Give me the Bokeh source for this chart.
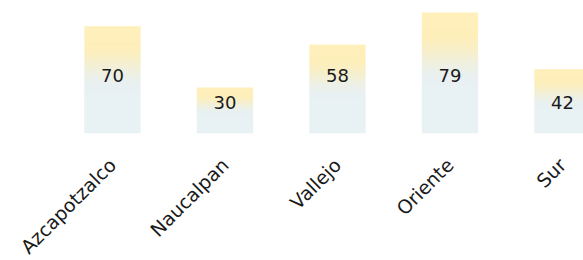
import numpy as np
from bokeh.plotting import figure
from bokeh.models import Range1d, FixedTicker
from bokeh.embed import file_html
from bokeh.resources import INLINE
from bokeh.core.properties import value as pval

categories = ["Azcapotzalco", "Naucalpan", "Vallejo", "Oriente", "Sur"]
values = [70, 30, 58, 79, 42]

FONT = "DejaVu Sans"
TOP = np.array([255, 239, 186], dtype=float)
BOTTOM = np.array([232, 241, 244], dtype=float)

def gradient(n=80):
    t = np.linspace(0, 1, n)  # 0 bottom, 1 top
    w = np.clip((t - 0.40) / 0.45, 0, 1)
    w = w * w * (3 - 2 * w)
    rgb = BOTTOM[None, :] * (1 - w[:, None]) + TOP[None, :] * w[:, None]
    img = np.zeros((n, 1), dtype=np.uint32)
    view = img.view(dtype=np.uint8).reshape((n, 1, 4))
    view[:, 0, 0] = rgb[:, 0].astype(np.uint8)
    view[:, 0, 1] = rgb[:, 1].astype(np.uint8)
    view[:, 0, 2] = rgb[:, 2].astype(np.uint8)
    view[:, 0, 3] = 255
    return img

xs = np.arange(len(categories))
vals = np.array(values, dtype=float)

p = figure(frame_width=575, frame_height=125, output_backend="svg",
           toolbar_location=None, y_axis_location=None,
           x_range=Range1d(-0.924, 4.187), y_range=Range1d(0, 81.6),
           min_border_left=8, min_border_right=0, min_border_top=8,
           min_border_bottom=0)
p.outline_line_color = None
p.grid.visible = False

bw = 0.5
g = gradient()
p.image_rgba(image=[g] * len(xs), x=list(xs - bw / 2), y=[0] * len(xs),
             dw=[bw] * len(xs), dh=list(vals))

label_y = np.where(vals >= 50, 38.0, 20.0)
p.text(x=xs, y=label_y, text=[str(v) for v in values],
       text_align="center", text_baseline="middle",
       text_font=pval(FONT), text_font_size="18px", text_color="#1a1a1a")

ax = p.xaxis[0]
ax.ticker = FixedTicker(ticks=list(xs))
ax.major_label_overrides = {int(i): c for i, c in zip(xs, categories)}
ax.major_label_orientation = np.pi / 4
ax.major_label_text_font = FONT
ax.major_label_text_font_size = "19px"
ax.major_label_text_color = "#1a1a1a"
ax.axis_line_color = None
ax.major_tick_line_color = None
ax.minor_tick_line_color = None
ax.major_label_standoff = 22

open("out.html", "w").write(file_html(p, INLINE))
